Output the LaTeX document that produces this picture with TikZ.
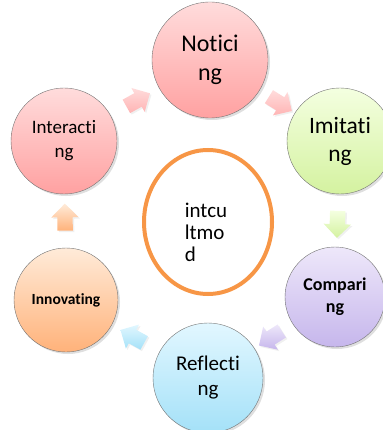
\documentclass[tikz,border=0pt]{standalone}
\usepackage{fontspec}
\setmainfont{Carlito}[Ligatures={NoCommon}]
\usetikzlibrary{shapes.geometric,shapes.arrows,shadows}

\definecolor{pinktop}{HTML}{FFDCDC}
\definecolor{pinkbot}{HTML}{FFA1A1}
\definecolor{greentop}{HTML}{F4FFE0}
\definecolor{greenbot}{HTML}{D4F2A0}
\definecolor{lilactop}{HTML}{EEE8FA}
\definecolor{lilacbot}{HTML}{C6B6EC}
\definecolor{skytop}{HTML}{E2F7FF}
\definecolor{skybot}{HTML}{A4E1F8}
\definecolor{peachtop}{HTML}{FFEBD9}
\definecolor{peachbot}{HTML}{FFB27A}
\definecolor{coreline}{HTML}{F79646}

\tikzset{
	stage/.style={circle, draw=black!55, thin, align=center, inner sep=0pt,
		drop shadow={opacity=0.25, shadow xshift=2pt, shadow yshift=-2pt}},
	flow/.style={single arrow, minimum height=27pt, inner sep=7.5pt,
		single arrow head extend=6pt, draw=none, sloped, allow upside down,
		drop shadow={opacity=0.12, shadow xshift=1.5pt, shadow yshift=-1.5pt}}
}

\begin{document}
\begin{tikzpicture}[x=1pt, y=1pt]
	\useasboundingbox (0,0) rectangle (382,-430);
	% the six stages
	\node[stage, minimum size=116pt, top color=pinktop, bottom color=pinkbot, font=\fontsize{24}{29}\selectfont] (noticing) at (210,-60) {Notici\\ng};
	\node[stage, minimum size=106pt, top color=greentop, bottom color=greenbot, font=\fontsize{23.5}{28}\selectfont] (imitating) at (340,-141) {Imitati\\ng};
	\node[stage, minimum size=100pt, top color=lilactop, bottom color=lilacbot, font=\fontsize{18}{22}\selectfont\bfseries] (comparing) at (335,-297) {Compari\\ng};
	\node[stage, minimum size=110pt, top color=skytop, bottom color=skybot, font=\fontsize{21}{25}\selectfont] (reflecting) at (208,-378) {Reflecti\\ng};
	\node[stage, minimum size=104pt, top color=peachtop, bottom color=peachbot, font=\fontsize{15.5}{19}\selectfont\bfseries] (innovating) at (66,-300) {Innovating};
	\node[stage, minimum size=106pt, top color=pinktop, bottom color=pinkbot, font=\fontsize{19}{24}\selectfont] (interacting) at (64,-141) {Interacti\\ng};
	% centre
	\node[ellipse, draw=coreline, line width=4pt, minimum width=128pt, minimum height=144pt] (core) at (208,-222) {};
	\node[align=left, font=\fontsize{21}{22}\selectfont] (coretext) at (206,-232) {intcu\\ltmo\\d};
	% arrows between stages
	\path (interacting) -- node[flow, top color=pinktop, bottom color=pinkbot!80] (a1) {} (noticing);
	\path (noticing) -- node[flow, top color=pinktop, bottom color=pinkbot!80] (a2) {} (imitating);
	\path (imitating) -- node[flow, top color=greentop, bottom color=greenbot] (a3) {} (comparing);
	\path (comparing) -- node[flow, top color=lilactop, bottom color=lilacbot] (a4) {} (reflecting);
	\path (reflecting) -- node[flow, top color=skytop, bottom color=skybot] (a5) {} (innovating);
	\path (innovating) -- node[flow, top color=peachtop, bottom color=peachbot] (a6) {} (interacting);
\end{tikzpicture}
\end{document}
